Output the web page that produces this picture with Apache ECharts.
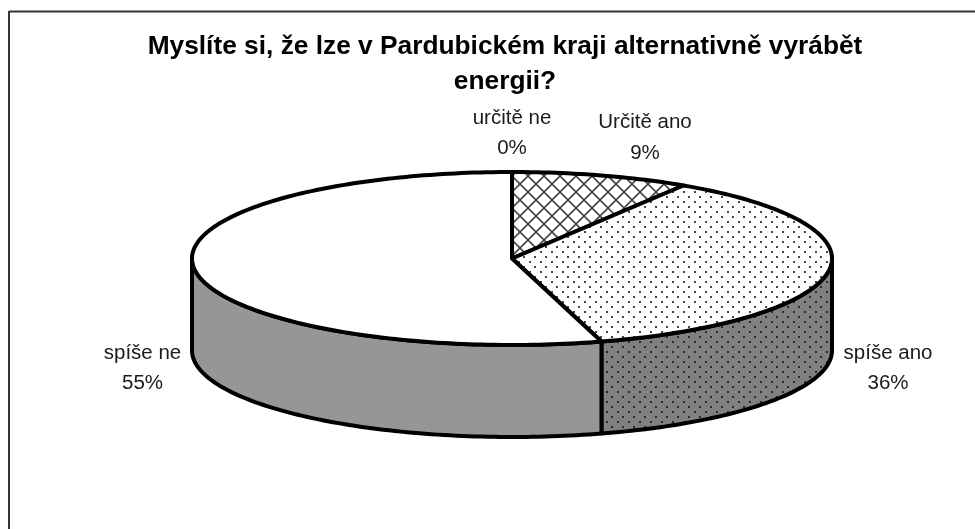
<!DOCTYPE html>
<html>
<head>
<meta charset="utf-8">
<style>
  html, body { margin: 0; padding: 0; background: #fff; }
  #chart { width: 975px; height: 529px; }
</style>
<script src="https://cdn.jsdelivr.net/npm/echarts@6/dist/echarts.min.js"></script>
</head>
<body>
<div id="chart"></div>
<script>
// data, clockwise from 12 o'clock
var categories = ['Určitě ano', 'spíše ano', 'spíše ne', 'určitě ne'];
var sliceValues = [9, 36.49, 54.51, 0];
var chartTitle = 'Myslíte si, že lze v Pardubickém kraji alternativně vyrábět\nenergii?';

// pie geometry
var cx = 512, cy = 258.5, rx = 320, ry = 86.5, depth = 92;
// label centres, same order as categories
var labelPos = [[645, 138], [888, 368.5], [142.5, 368.5], [512, 133.5]];

function makePattern(w, h, bg, draw) {
  var c = document.createElement('canvas');
  c.width = w;
  c.height = h;
  var ctx = c.getContext('2d');
  ctx.fillStyle = bg;
  ctx.fillRect(0, 0, w, h);
  draw(ctx);
  return { image: c, repeat: 'repeat' };
}

function dots(color) {
  return function (ctx) {
    ctx.fillStyle = color;
    ctx.fillRect(1, 1, 2, 2);
    ctx.fillRect(6, 6, 2, 2);
  };
}

var crossTop = makePattern(16, 16, '#fff', function (ctx) {
  ctx.strokeStyle = '#444';
  ctx.lineWidth = 1.6;
  ctx.beginPath();
  ctx.moveTo(0, 0); ctx.lineTo(16, 16);
  ctx.moveTo(16, 0); ctx.lineTo(0, 16);
  ctx.stroke();
});
var dotTop = makePattern(11, 10, '#fff', dots('#444'));
var dotSide = makePattern(11, 10, '#808080', dots('#2a2a2a'));

var topFill = [crossTop, dotTop, '#fff', '#fff'];
var sideFill = ['#808080', dotSide, '#969696', '#969696'];

function rimPoint(t, dy) {
  return [cx + rx * Math.sin(t), cy - ry * Math.cos(t) + dy];
}

function arcPoints(t1, t2, dy) {
  var pts = [];
  var n = Math.max(2, Math.ceil(Math.abs(t2 - t1) / 0.02));
  for (var i = 0; i <= n; i++) {
    pts.push(rimPoint(t1 + (t2 - t1) * i / n, dy));
  }
  return pts;
}

var total = sliceValues.reduce(function (a, b) { return a + b; }, 0);

function renderSlice(params, api) {
  var i = params.dataIndex;
  var before = 0;
  for (var k = 0; k < i; k++) before += sliceValues[k];
  var t1 = before / total * Math.PI * 2;
  var t2 = (before + api.value(0)) / total * Math.PI * 2;
  var children = [];
  var line = { stroke: '#000', lineWidth: 4, lineJoin: 'round' };

  if (t2 > t1) {
    // side wall, only the front half of the rim shows
    var a = Math.max(t1, Math.PI / 2);
    var b = Math.min(t2, Math.PI * 1.5);
    if (b > a) {
      children.push({
        type: 'polygon',
        shape: { points: arcPoints(a, b, 0).concat(arcPoints(b, a, depth)) },
        style: Object.assign({ fill: sideFill[i] }, line)
      });
    }
    children.push({
      type: 'polygon',
      shape: { points: [[cx, cy]].concat(arcPoints(t1, t2, 0)) },
      style: Object.assign({ fill: topFill[i] }, line)
    });
  }
  children.push({
    type: 'text',
    style: {
      text: categories[i] + '\n' + Math.round(api.value(0)) + '%',
      x: labelPos[i][0],
      y: labelPos[i][1],
      align: 'center',
      verticalAlign: 'middle',
      fill: '#1a1a1a',
      font: '20.5px "Liberation Sans"',
      lineHeight: 30.5
    }
  });
  return { type: 'group', children: children };
}

var myChart = echarts.init(document.getElementById('chart'));
var option = {
  animation: false,
  backgroundColor: '#fff',
  title: {
    text: chartTitle,
    left: 500,
    top: 24,
    textAlign: 'center',
    textStyle: {
      fontFamily: 'Liberation Sans',
      fontWeight: 'bold',
      fontSize: 26.3,
      lineHeight: 35,
      color: '#000'
    }
  },
  // only the top and left edge of the frame are in the picture
  graphic: [
    { type: 'line', shape: { x1: 9, y1: 11.5, x2: 975, y2: 11.5 }, style: { stroke: '#333', lineWidth: 2 } },
    { type: 'line', shape: { x1: 9, y1: 11, x2: 9, y2: 529 }, style: { stroke: '#333', lineWidth: 2 } }
  ],
  series: [{
    type: 'custom',
    coordinateSystem: 'none',
    renderItem: renderSlice,
    data: sliceValues.map(function (v) { return [v]; })
  }]
};
myChart.setOption(option);
</script>
</body>
</html>
